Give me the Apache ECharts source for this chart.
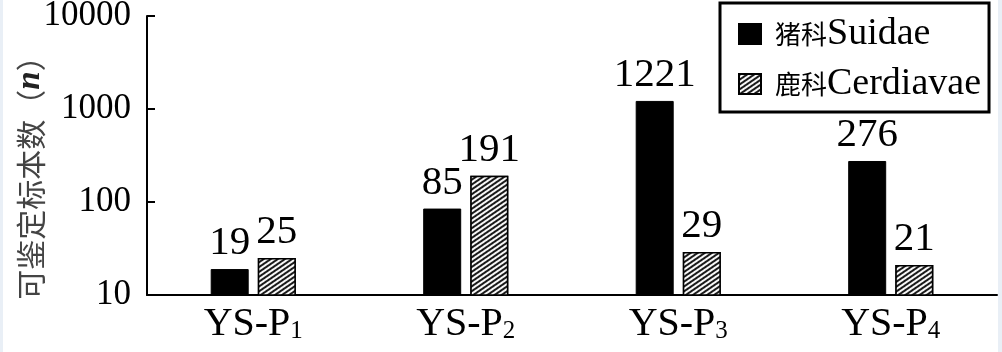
<!DOCTYPE html>
<html>
<head>
<meta charset="utf-8">
<script src="https://cdn.jsdelivr.net/npm/echarts@6/dist/echarts.min.js"></script>
<style>
  html, body { margin: 0; padding: 0; background: #e9eff6; }
  #chart { position: absolute; left: 3px; top: 0; width: 995px; height: 352px; background: #fff; }
</style>
</head>
<body>
<div id="chart"></div>
<script>
// ---- data ----
const categories = ['YS-P1', 'YS-P2', 'YS-P3', 'YS-P4'];
const suidae = [19, 85, 1221, 276];
const cerdiavae = [25, 191, 29, 21];
const seriesNames = ['猪科Suidae', '鹿科Cerdiavae'];
const yTicks = [10, 100, 1000, 10000];
const yTitle = '可鉴定标本数';

const serif = '"Liberation Serif", "Times New Roman", serif';
const cjk = '"Noto Sans CJK SC", sans-serif';

const chart = echarts.init(document.getElementById('chart'), null, { renderer: 'canvas' });

const hatch = {
  symbol: 'rect',
  symbolSize: 1,
  dashArrayX: [1, 0],
  dashArrayY: [1.5, 2],
  rotation: -0.6,
  color: '#1a1a1a',
  backgroundColor: '#f7f7f7'
};

function splitName(n) {
  const m = n.match(/^([^A-Za-z]*)(.*)$/);
  return '{c|' + m[1] + '}{l|' + m[2] + '}';
}

chart.setOption({
  animation: false,
  backgroundColor: '#fff',
  grid: { left: 144, right: 1, top: 16, bottom: 57, containLabel: false, outerBoundsMode: 'none' },
  legend: {
    orient: 'vertical',
    left: 717,
    top: 3,
    padding: [12, 8, 9, 18],
    itemGap: 12,
    itemWidth: 22,
    itemHeight: 20,
    icon: 'rect',
    borderColor: '#000',
    borderWidth: 3,
    data: seriesNames,
    formatter: splitName,
    textStyle: {
      color: '#000',
      padding: [0, 0, 0, 9],
      rich: {
        c: { fontFamily: cjk, fontSize: 26, color: '#000' },
        l: { fontFamily: serif, fontSize: 38, color: '#000' }
      }
    }
  },
  xAxis: {
    type: 'category',
    data: categories,
    boundaryGap: true,
    axisTick: { show: false },
    axisLine: { lineStyle: { color: '#000', width: 2 } },
    axisLabel: {
      margin: 9,
      formatter: function (v) {
        return '{m|' + v.slice(0, -1) + '}{s|' + v.slice(-1) + '}';
      },
      rich: {
        m: { fontFamily: serif, fontSize: 40, color: '#000' },
        s: { fontFamily: serif, fontSize: 25, color: '#000', verticalAlign: 'bottom' }
      }
    }
  },
  yAxis: {
    type: 'log',
    logBase: 10,
    min: 10,
    max: 10000,
    name: '{c|' + yTitle + '}{p|（}{n|n}{p|）}',
    nameLocation: 'middle',
    nameRotate: 90,
    nameGap: 100,
    nameMoveOverlap: false,
    nameTextStyle: {
      padding: [0, 30, 0, 0],
      rich: {
        c: { fontFamily: cjk, fontSize: 30, color: '#444' },
        p: { fontFamily: cjk, fontSize: 30, color: '#444' },
        n: { fontFamily: serif, fontSize: 33, fontStyle: 'italic', fontWeight: 'bold', color: '#222' }
      }
    },
    axisLine: { show: true, lineStyle: { color: '#000', width: 2 } },
    axisTick: { show: true, inside: true, length: 8, lineStyle: { color: '#000', width: 2 } },
    minorTick: { show: false },
    splitLine: { show: false },
    axisLabel: {
      margin: 16,
      fontFamily: serif,
      fontSize: 35,
      color: '#000',
      formatter: function (v) { return yTicks.indexOf(Math.round(v)) >= 0 ? String(Math.round(v)) : ''; }
    }
  },
  series: [
    {
      name: seriesNames[0],
      type: 'bar',
      data: suidae,
      barWidth: 38,
      barGap: '24%',
      itemStyle: { color: '#000', borderColor: '#000', borderWidth: 1 },
      label: {
        show: true, position: 'top', distance: 5,
        fontFamily: serif, fontSize: 41, color: '#000'
      }
    },
    {
      name: seriesNames[1],
      type: 'bar',
      data: cerdiavae,
      barWidth: 38,
      barGap: '24%',
      itemStyle: { color: '#f7f7f7', borderColor: '#000', borderWidth: 1.5, decal: hatch },
      label: {
        show: true, position: 'top', distance: 5,
        fontFamily: serif, fontSize: 41, color: '#000'
      }
    }
  ]
});
</script>
</body>
</html>
